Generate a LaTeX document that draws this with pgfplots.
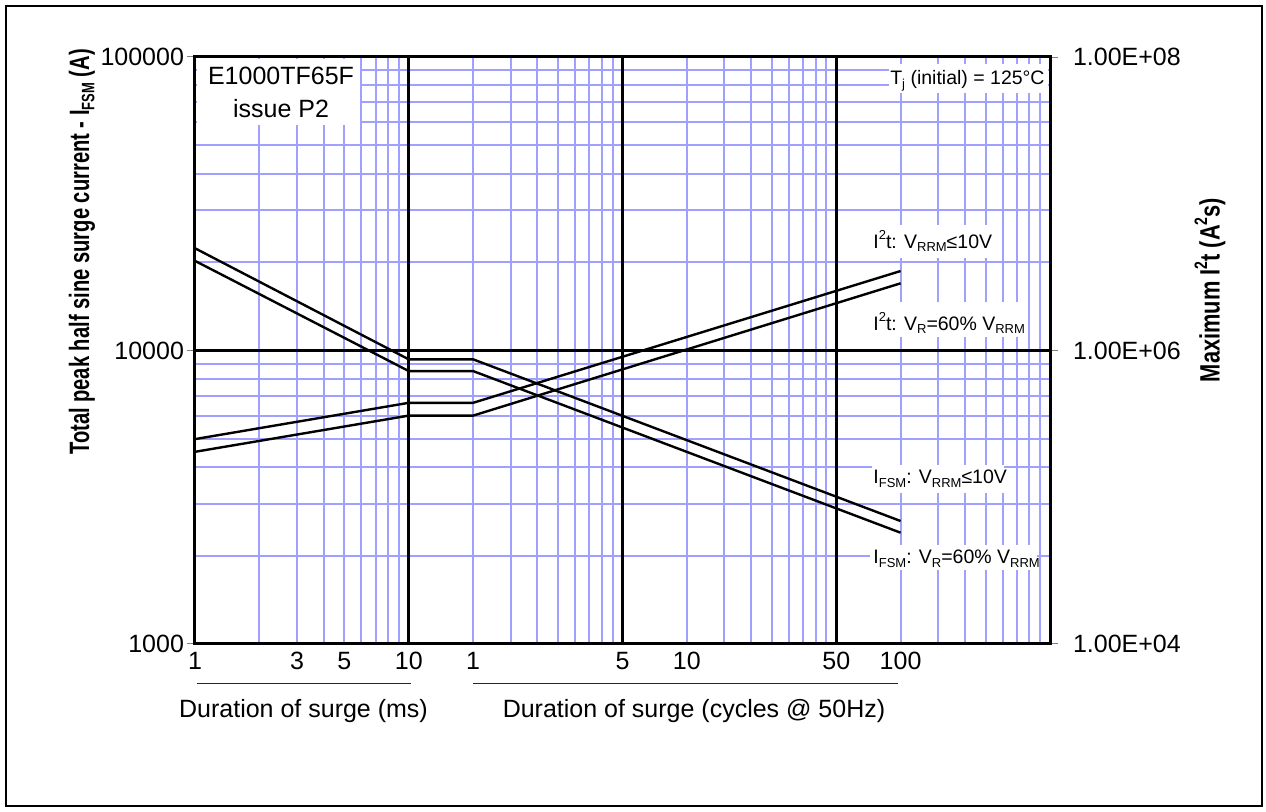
\documentclass[border=0pt]{standalone}
\usepackage{fontspec}
\setmainfont{Liberation Sans}
\usepackage{pgfplots}
\pgfplotsset{compat=1.18}
\definecolor{gridblue}{RGB}{160,160,255}
\newcommand\sub[1]{\raisebox{-0.35ex}{\fontsize{6.5}{7}\selectfont #1}}
\newcommand\sups[1]{\raisebox{0.85ex}{\fontsize{6.5}{7}\selectfont #1}}
\newcommand\subB[1]{\raisebox{-0.35ex}{\fontsize{9}{10}\selectfont #1}}
\newcommand\supB[1]{\raisebox{0.85ex}{\fontsize{9}{10}\selectfont #1}}
\newcommand\lbl{\fontsize{9.75}{11}\selectfont}
\newcommand\tck{\fontsize{12.5}{14}\selectfont}

\pgfplotstableread{
x y
1 22300
10 9330
20 9330
2000 2624
}\ifsmhigh
\pgfplotstableread{
x y
1 20200
10 8510
20 8510
2000 2394
}\ifsmlow
\pgfplotstableread{
x y
1 249000
10 440000
20 440000
2000 3480000
}\itsqhigh
\pgfplotstableread{
x y
1 204000
10 360000
20 360000
2000 2870000
}\itsqlow

\begin{document}
\begin{tikzpicture}
\useasboundingbox (0,0) rectangle (633pt,405.5pt);
\draw[line width=1pt] (3pt,2.5pt) rectangle (631pt,402.5pt);

% background axis: the light blue grid
\begin{axis}[
  at={(97.5pt,83.5pt)}, anchor=south west,
  scale only axis, width=427.5pt, height=293.5pt,
  xmode=log, ymode=log, xmin=1, xmax=10000, ymin=1000, ymax=100000,
  xtick={2,3,4,5,6,7,8,9,20,30,40,50,60,70,80,90,200,300,400,500,600,700,800,900,2000,3000,4000,5000,6000,7000,8000,9000},
  ytick={2000,3000,4000,5000,6000,7000,8000,9000,20000,30000,40000,50000,60000,70000,80000,90000},
  minor xtick={}, minor ytick={},
  xticklabels={}, yticklabels={},
  xmajorgrids=true, ymajorgrids=true,
  major grid style={draw=gridblue, line width=1pt},
  tick style={draw=none},
  axis line style={draw=none},
]
\end{axis}

\begin{axis}[
  at={(97.5pt,83.5pt)}, anchor=south west,
  scale only axis, width=427.5pt, height=293.5pt,
  xmode=log, ymode=log, xmin=1, xmax=10000, ymin=1000, ymax=100000,
  xtick={1,3,5,10,20,100,200,1000,2000},
  xticklabels={1,3,5,10,1,5,10,50,100},
  minor xtick={}, minor ytick={},
  extra x ticks={10,100,1000},
  extra x tick labels={},
  extra x tick style={xmajorgrids=true, major tick length=0pt},
  ytick={1000,10000,100000},
  yticklabels={1000,10000,100000},
  xmajorgrids=false, ymajorgrids=true,
  major grid style={black, line width=1.3pt},
  axis line style={line width=1.5pt},
  xtick pos=bottom, ytick pos=left,
  tick align=outside,
  xtick style={draw=none},
  ytick style={gray, line width=0.5pt},
  major tick length=4pt, minor tick length=0pt,
  ticklabel style={font=\tck},
  yticklabel style={xshift=2pt},
  xticklabel style={yshift=3.5pt},
  /pgf/number format/assume math mode=true,
]
\addplot[black, line width=1.2pt, no marks] table[x=x,y=y] {\ifsmhigh};
\addplot[black, line width=1.2pt, no marks] table[x=x,y=y] {\ifsmlow};
\end{axis}

\begin{axis}[
  at={(97.5pt,83.5pt)}, anchor=south west,
  scale only axis, width=427.5pt, height=293.5pt,
  xmode=log, ymode=log, xmin=1, xmax=10000, ymin=10000, ymax=100000000,
  axis x line=none, axis y line*=right,
  ytick={10000,1000000,100000000},
  yticklabels={1.00E+04,1.00E+06,1.00E+08},
  minor ytick={}, grid=none,
  axis line style={line width=1.5pt},
  tick align=outside,
  ytick style={gray, line width=0.5pt},
  major tick length=4pt, minor tick length=0pt,
  ticklabel style={font=\tck},
  yticklabel style={xshift=4pt},
  /pgf/number format/assume math mode=true,
]
\addplot[black, line width=1.2pt, no marks] table[x=x,y=y] {\itsqhigh};
\addplot[black, line width=1.2pt, no marks] table[x=x,y=y] {\itsqlow};
\end{axis}

% label boxes
\fill[white] (98.4pt,343pt) rectangle (180pt,376.2pt);
\node[font=\tck] at (140.5pt,367.5pt) {E1000TF65F};
\node[font=\tck] at (140.5pt,351pt) {issue P2};

\fill[white] (444.5pt,359pt) rectangle (524pt,373.5pt);
\node[font=\lbl, anchor=base east, inner sep=0pt] at (522.5pt,363pt) {T\sub{j} (initial) = 125°C};

\fill[white] (435pt,276.5pt) rectangle (495pt,293pt);
\node[font=\lbl, anchor=base west, inner sep=0pt] at (436.5pt,281.5pt) {I\sups{2}t: V\sub{RRM}≤10V};
\fill[white] (435pt,237pt) rectangle (512pt,254.5pt);
\node[font=\lbl, anchor=base west, inner sep=0pt] at (436.5pt,240.5pt) {I\sups{2}t: V\sub{R}=60\% V\sub{RRM}};
\fill[white] (436pt,159pt) rectangle (502pt,173pt);
\node[font=\lbl, anchor=base west, inner sep=0pt] at (436.5pt,163.8pt) {I\sub{FSM}: V\sub{RRM}≤10V};
\fill[white] (435pt,120.5pt) rectangle (518.5pt,133pt);
\node[font=\lbl, anchor=base west, inner sep=0pt] at (436.5pt,123.8pt) {I\sub{FSM}: V\sub{R}=60\% V\sub{RRM}};

% axis titles
\node[rotate=90, font=\bfseries\fontsize{14}{16}\selectfont] at (41pt,279.5pt) {\scalebox{0.72}[1]{Total peak half sine surge current - I\subB{FSM} (A)}};
\node[rotate=90, font=\bfseries\fontsize{14}{16}\selectfont] at (605pt,260.5pt) {\scalebox{0.78}[1]{Maximum I\supB{2}t (A\supB{2}s)}};

% bottom captions
\draw[line width=0.6pt, black!85] (98.3pt,63.85pt) -- (205.5pt,63.85pt);
\draw[line width=0.6pt, black!85] (236.5pt,63.85pt) -- (449pt,63.85pt);
\node[font=\tck, anchor=base] at (151.75pt,47pt) {Duration of surge (ms)};
\node[font=\tck, anchor=base] at (347pt,47pt) {Duration of surge (cycles @ 50Hz)};
\end{tikzpicture}
\end{document}
